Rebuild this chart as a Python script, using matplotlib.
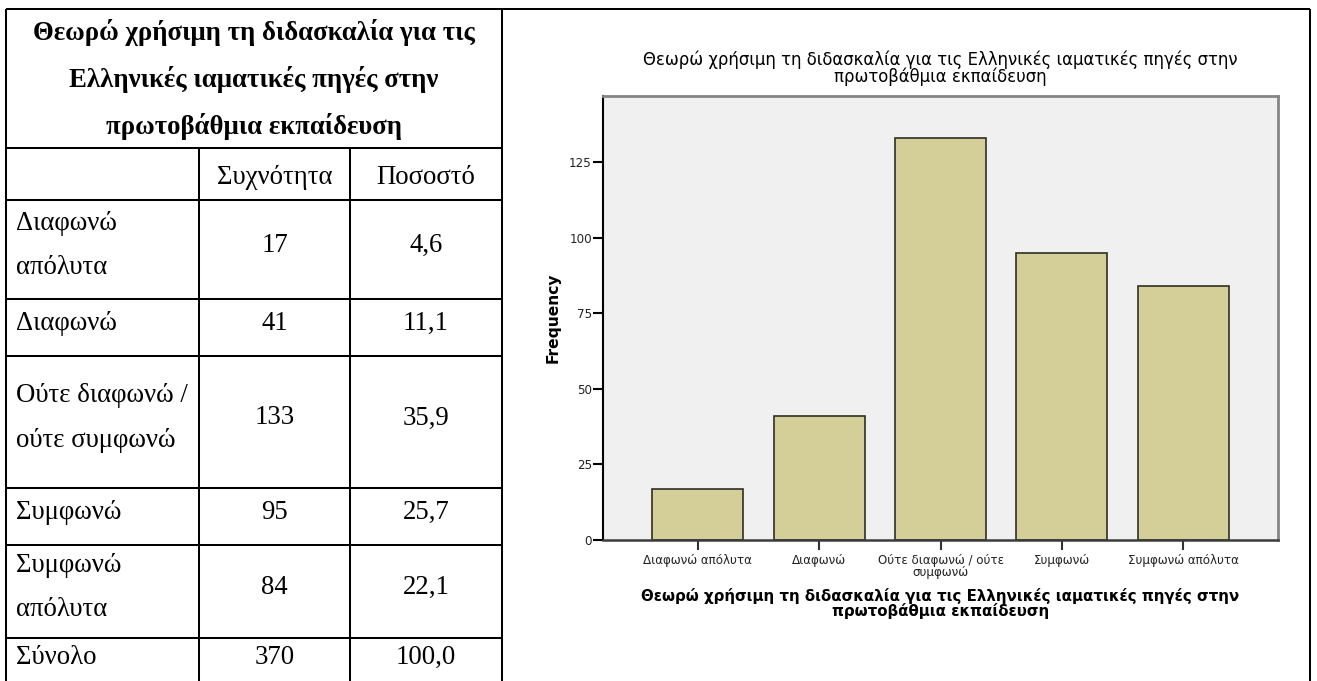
import numpy as np
import matplotlib
matplotlib.use("Agg")
import matplotlib.pyplot as plt

# ── Δεδομένα ────────────────────────────────────────────────────────────────
TITLE = "Θεωρώ χρήσιμη τη διδασκαλία για τις Ελληνικές ιαματικές πηγές στην\nπρωτοβάθμια εκπαίδευση"
TABLE_TITLE = "Θεωρώ χρήσιμη τη διδασκαλία για τις\nΕλληνικές ιαματικές πηγές στην\nπρωτοβάθμια εκπαίδευση"
COL_HEADERS = ["Συχνότητα", "Ποσοστό"]
row_labels = ["Διαφωνώ\nαπόλυτα", "Διαφωνώ", "Ούτε διαφωνώ /\nούτε συμφωνώ",
              "Συμφωνώ", "Συμφωνώ\nαπόλυτα"]
bar_labels = ["Διαφωνώ απόλυτα", "Διαφωνώ", "Ούτε διαφωνώ / ούτε\nσυμφωνώ",
              "Συμφωνώ", "Συμφωνώ απόλυτα"]
counts = [17, 41, 133, 95, 84]
percents = [4.6, 11.1, 35.9, 25.7, 22.1]
TOTAL_LABEL = "Σύνολο"
total_count = 370
total_percent = 100.0
y_ticks = [0, 25, 50, 75, 100, 125]

# ── Διάταξη (pixels) ────────────────────────────────────────────────────────
W, H = 1317, 681
ROW_EDGES = [9, 148, 200, 299, 356, 488, 545, 638, 690]
COL_EDGES = [6, 199, 350, 502]
RIGHT_EDGE = 1310
LINE_W = 1.45

BAR_COLOR = "#D4CF98"
EDGE_COLOR = "#2f2f24"
SERIF = "Liberation Serif"
SANS = "DejaVu Sans"


def fmt(v):
    return f"{v:.1f}".replace(".", ",")


fig = plt.figure(figsize=(W / 100, H / 100), dpi=100)
fig.patch.set_facecolor("white")

# ── Πίνακας (αριστερά) ──────────────────────────────────────────────────────
tab = fig.add_axes([0, 0, 1, 1])
tab.set_xlim(0, W)
tab.set_ylim(H, 0)
tab.axis("off")

x0, x1, x2, x3 = COL_EDGES
tab.hlines(ROW_EDGES[0], x0, RIGHT_EDGE, color="black", lw=LINE_W)
tab.hlines(ROW_EDGES[1:-1], x0, x3, color="black", lw=LINE_W)
tab.vlines([x0, x3, RIGHT_EDGE], ROW_EDGES[0], ROW_EDGES[-1], color="black", lw=LINE_W)
tab.vlines([x1, x2], ROW_EDGES[1], ROW_EDGES[-1], color="black", lw=LINE_W)

TS = 19.3
LS = 1.95
SHIFT = -4
r = ROW_EDGES
tab.text((x0 + x3) / 2, (r[0] + r[1]) / 2 + 1, TABLE_TITLE, ha="center",
         va="center", fontsize=TS, fontweight="bold", family=SERIF, linespacing=LS)
for j, head in enumerate(COL_HEADERS):
    cx = (COL_EDGES[j + 1] + COL_EDGES[j + 2]) / 2
    tab.text(cx, (r[1] + r[2]) / 2 + 4, head, ha="center", va="center",
             fontsize=TS, family=SERIF)

labels_all = row_labels + [TOTAL_LABEL]
counts_all = counts + [total_count]
pct_all = percents + [total_percent]
for i, (lab, c, p) in enumerate(zip(labels_all, counts_all, pct_all)):
    top, bot = r[i + 2], r[i + 3]
    if i == len(labels_all) - 1:
        bot = top + 46
    cy = (top + bot) / 2 + SHIFT
    tab.text(x0 + 10, cy, lab, ha="left", va="center", fontsize=TS,
             family=SERIF, linespacing=2.05)
    tab.text((x1 + x2) / 2, cy, str(c), ha="center", va="center",
             fontsize=TS, family=SERIF)
    tab.text((x2 + x3) / 2, cy, fmt(p), ha="center", va="center",
             fontsize=TS, family=SERIF)

# ── Ραβδόγραμμα (δεξιά) ─────────────────────────────────────────────────────
PL, PR, PT, PB = 603, 1278, 96, 540
ax = fig.add_axes([PL / W, 1 - PB / H, (PR - PL) / W, (PB - PT) / H])
ax.set_facecolor("#F0F0F0")
x = np.arange(len(counts))
ax.bar(x, counts, width=0.75, color=BAR_COLOR, edgecolor=EDGE_COLOR,
       linewidth=1.2, zorder=2)
ax.set_xlim(-0.78, len(counts) - 0.22)
ax.set_ylim(0, 147)
ax.set_yticks(y_ticks)
ax.set_xticks(x)
ax.set_xticklabels(bar_labels, fontsize=8.6, family=SANS, color="#222222",
                   linespacing=0.9)
ax.set_yticklabels([str(t) for t in y_ticks], fontsize=8.6, family=SANS,
                   color="#222222")
ax.tick_params(axis="y", length=7, width=1.5, color="black", pad=1)
ax.tick_params(axis="x", length=7, width=1.5, color="#333333", pad=3)

ax.spines["left"].set_color("black")
ax.spines["left"].set_linewidth(1.5)
ax.spines["bottom"].set_color("#3c3c3c")
ax.spines["bottom"].set_linewidth(1.8)
for side in ("top", "right"):
    ax.spines[side].set_color("#858585")
    ax.spines[side].set_linewidth(2.0)

ax.set_ylabel("Frequency", fontsize=11.2, fontweight="bold", family=SANS,
              va="center")
ax.yaxis.set_label_coords((553 - PL) / (PR - PL), 0.5)

cx = (PL + PR) / 2 / W
fig.text(cx, 1 - 68.5 / H, TITLE, ha="center", va="center", fontsize=11.9,
         family=SANS, linespacing=0.9)
fig.text(cx, 1 - 603.5 / H, TITLE, ha="center", va="center", fontsize=10.85,
         fontweight="bold", family=SANS, linespacing=0.92)

fig.savefig("out.png", dpi=100)
